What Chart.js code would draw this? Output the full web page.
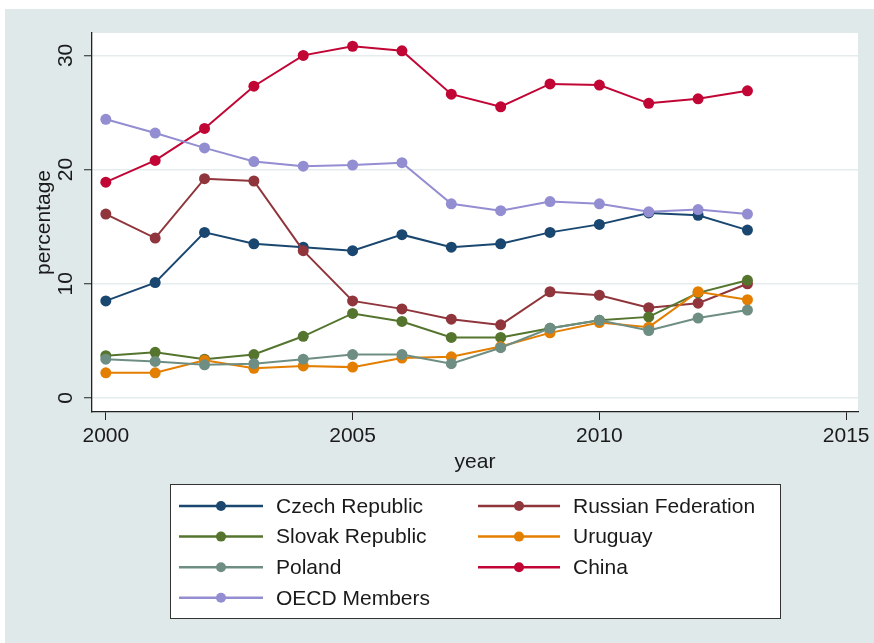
<!DOCTYPE html>
<html>
<head>
<meta charset="utf-8">
<script src="https://cdn.jsdelivr.net/npm/chart.js@4"></script>
<style>
  html, body { margin: 0; padding: 0; background: #ffffff; }
  canvas { display: block; }
</style>
</head>
<body>
<canvas id="c" width="874" height="643"></canvas>
<script>
const years = [2000, 2001, 2002, 2003, 2004, 2005, 2006, 2007, 2008, 2009, 2010, 2011, 2012, 2013];
const czechRepublic = [8.5, 10.1, 14.5, 13.5, 13.2, 12.9, 14.3, 13.2, 13.5, 14.5, 15.2, 16.2, 16.0, 14.7];
const russianFederation = [16.1, 14.0, 19.2, 19.0, 12.9, 8.5, 7.8, 6.9, 6.4, 9.3, 9.0, 7.9, 8.3, 10.0];
const slovakRepublic = [3.7, 4.0, 3.4, 3.8, 5.4, 7.4, 6.7, 5.3, 5.3, 6.1, 6.8, 7.1, 9.2, 10.3];
const uruguay = [2.2, 2.2, 3.3, 2.6, 2.8, 2.7, 3.5, 3.6, 4.5, 5.7, 6.6, 6.2, 9.3, 8.6];
const poland = [3.4, 3.2, 2.9, 3.0, 3.4, 3.8, 3.8, 3.0, 4.4, 6.1, 6.8, 5.9, 7.0, 7.7];
const china = [18.9, 20.8, 23.6, 27.3, 30.0, 30.8, 30.4, 26.6, 25.5, 27.5, 27.4, 25.8, 26.2, 26.9];
const oecdMembers = [24.4, 23.2, 21.9, 20.7, 20.3, 20.4, 20.6, 17.0, 16.4, 17.2, 17.0, 16.3, 16.5, 16.1];

const seriesNames = ["Czech Republic", "Russian Federation", "Slovak Republic", "Uruguay", "Poland", "China", "OECD Members"];
const seriesValues = [czechRepublic, russianFederation, slovakRepublic, uruguay, poland, china, oecdMembers];
const seriesColors = ["#1a476f", "#90353b", "#55752f", "#e37e00", "#6e8e84", "#c10534", "#938dd2"];

const xTicks = [2000, 2005, 2010, 2015];
const yTicks = [0, 10, 20, 30];
const xTitle = "year";
const yTitle = "percentage";

const FONT = "'Liberation Sans', Arial, 'DejaVu Sans', sans-serif";
const TEXT = "#1a1a1a";

const datasets = seriesNames.map((name, i) => ({
  label: name,
  data: years.map((yr, j) => ({ x: yr, y: seriesValues[i][j] })),
  borderColor: seriesColors[i],
  backgroundColor: seriesColors[i],
  pointBackgroundColor: seriesColors[i],
  pointBorderColor: seriesColors[i],
  pointRadius: 5.5,
  pointBorderWidth: 0,
  borderWidth: 2,
  tension: 0,
  order: seriesNames.length - 1 - i
}));

const bgPlugin = {
  id: 'bg',
  beforeDraw(chart) {
    const ctx = chart.ctx;
    const a = chart.chartArea;
    ctx.save();
    ctx.fillStyle = '#ffffff';
    ctx.fillRect(0, 0, chart.width, chart.height);
    ctx.fillStyle = '#dfe9ea';
    ctx.fillRect(5, 9, chart.width - 5, chart.height - 9);
    ctx.fillStyle = '#ffffff';
    ctx.fillRect(a.left, a.top, a.right - a.left, a.bottom - a.top);
    ctx.restore();
  }
};

const yLabelPlugin = {
  id: 'ylabels',
  afterDraw(chart) {
    const ctx = chart.ctx;
    const ys = chart.scales.y;
    ctx.save();
    ctx.fillStyle = TEXT;
    ctx.font = "21px " + FONT;
    ctx.textAlign = 'center';
    ctx.textBaseline = 'middle';
    ys.ticks.forEach(t => {
      const py = ys.getPixelForValue(t.value);
      ctx.save();
      ctx.translate(66, py);
      ctx.rotate(-Math.PI / 2);
      ctx.fillText(String(t.value), 0, 0);
      ctx.restore();
    });
    ctx.restore();
  }
};

const legendPlugin = {
  id: 'boxlegend',
  afterDraw(chart) {
    const ctx = chart.ctx;
    ctx.save();
    const bx = 170, by = 484, bw = 610, bh = 134;
    ctx.fillStyle = '#ffffff';
    ctx.fillRect(bx, by, bw, bh);
    ctx.strokeStyle = '#333333';
    ctx.lineWidth = 1;
    ctx.strokeRect(bx + 0.5, by + 0.5, bw, bh);
    const cols = [{ l0: 179, l1: 263, tx: 276 }, { l0: 478, l1: 560, tx: 573 }];
    const row0 = 506, rowH = 30.6;
    ctx.font = "21px " + FONT;
    ctx.textBaseline = 'middle';
    ctx.textAlign = 'left';
    chart.data.datasets.forEach((ds, i) => {
      const c = cols[i % 2];
      const y = row0 + Math.floor(i / 2) * rowH;
      ctx.strokeStyle = ds.borderColor;
      ctx.lineWidth = 2.5;
      ctx.beginPath();
      ctx.moveTo(c.l0, y);
      ctx.lineTo(c.l1, y);
      ctx.stroke();
      ctx.fillStyle = ds.borderColor;
      ctx.beginPath();
      ctx.arc((c.l0 + c.l1) / 2, y, 5, 0, Math.PI * 2);
      ctx.fill();
      ctx.fillStyle = TEXT;
      ctx.fillText(ds.label, c.tx, y + 1);
    });
    ctx.restore();
  }
};

new Chart(document.getElementById('c'), {
  type: 'line',
  data: { datasets },
  plugins: [bgPlugin, yLabelPlugin, legendPlugin],
  options: {
    responsive: false,
    animation: false,
    devicePixelRatio: 1,
    layout: { padding: { left: 28, top: 33, right: 16, bottom: 168 } },
    plugins: {
      legend: { display: false },
      tooltip: { enabled: false }
    },
    scales: {
      x: {
        type: 'linear',
        min: 1999.72,
        max: 2015.24,
        afterBuildTicks: (s) => { s.ticks = xTicks.map(v => ({ value: v })); },
        afterFit: (s) => { s.height = 643 - 168 - 412; },
        grid: { drawOnChartArea: false, drawTicks: true, tickLength: 8, tickColor: '#222222', tickWidth: 1 },
        border: { display: true, color: '#222222', width: 1.3 },
        ticks: {
          color: TEXT,
          font: { size: 21, family: FONT },
          padding: 4,
          maxRotation: 0,
          callback: (v) => String(v)
        },
        title: {
          display: true,
          text: xTitle,
          color: TEXT,
          font: { size: 21, family: FONT },
          padding: { top: 0, bottom: 0 }
        }
      },
      y: {
        type: 'linear',
        min: -1.23,
        max: 31.96,
        afterBuildTicks: (s) => { s.ticks = yTicks.map(v => ({ value: v })); },
        afterFit: (s) => { s.width = 92 - 28; },
        grid: { color: '#e4eced', lineWidth: 1.5, drawTicks: true, tickLength: 8, tickColor: '#222222', tickWidth: 1 },
        border: { display: true, color: '#222222', width: 1.3 },
        ticks: { display: false },
        title: {
          display: true,
          text: yTitle,
          color: TEXT,
          font: { size: 21, family: FONT },
          padding: { top: 4, bottom: 0 }
        }
      }
    }
  }
});
</script>
</body>
</html>
